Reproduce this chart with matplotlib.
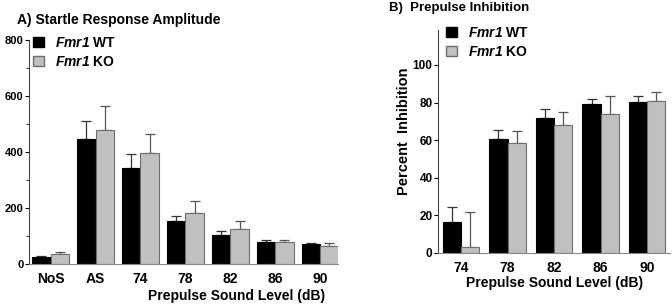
import matplotlib
matplotlib.use("Agg")
import matplotlib.pyplot as plt
import numpy as np
from matplotlib.patches import Patch

plt.rcParams['font.family'] = ['Liberation Sans', 'DejaVu Sans']
plt.rcParams['font.weight'] = 'bold'
plt.rcParams['mathtext.fontset'] = 'custom'
plt.rcParams['mathtext.bfit'] = 'Liberation Sans:italic:bold'
plt.rcParams['mathtext.bf'] = 'Liberation Sans:bold'

# A) 驚愕反応の振幅
cats_a = ['NoS', 'AS', '74', '78', '82', '86', '90']
wt_a = [24, 444, 342, 151, 102, 77, 70]
wt_a_err = [2, 66, 51, 18, 13, 6, 4]
ko_a = [35, 477, 396, 182, 122, 77, 63]
ko_a_err = [5, 85, 66, 41, 29, 7, 11]

# B) プレパルス抑制
cats_b = ['74', '78', '82', '86', '90']
wt_b = [16.5, 60.3, 71.6, 79.2, 80.4]
wt_b_err = [8, 5.2, 4.8, 2.8, 2.9]
ko_b = [3.2, 58.6, 68.2, 74.0, 80.6]
ko_b_err = [18.6, 6.4, 6.9, 9.3, 4.8]

labels = [r'$\mathbfit{Fmr1}$ WT', r'$\mathbfit{Fmr1}$ KO']
ko_color = '#c0c0c0'
ko_edge = '#6e6e6e'


def draw_bars(ax, cats, wt, wt_err, ko, ko_err, w):
    x = np.arange(len(cats))
    ax.bar(x - w / 2, wt, w, color='black', edgecolor='black', linewidth=0.8, zorder=2)
    ax.bar(x + w / 2, ko, w, color=ko_color, edgecolor=ko_edge, linewidth=0.8, zorder=2)
    ax.errorbar(x - w / 2, wt, yerr=[np.zeros(len(wt)), wt_err], fmt='none',
                ecolor='#333333', elinewidth=0.9, capsize=3.3, capthick=0.9, zorder=1)
    ax.errorbar(x + w / 2, ko, yerr=[np.zeros(len(ko)), ko_err], fmt='none',
                ecolor='#555555', elinewidth=0.9, capsize=3.3, capthick=0.9, zorder=1)
    ax.set_xticks(x)
    ax.set_xticklabels(cats, fontsize=10, fontweight='bold')
    ax.tick_params(axis='x', length=0, pad=6)
    for s in ['top', 'right']:
        ax.spines[s].set_visible(False)
    ax.spines['bottom'].set_color('#888888')
    ax.spines['bottom'].set_linewidth(0.8)
    ax.spines['left'].set_color('#444444')
    ax.spines['left'].set_linewidth(0.8)


def add_legend(ax, anchor):
    ax.legend([Patch(facecolor='black', edgecolor='black'),
               Patch(facecolor=ko_color, edgecolor=ko_edge)], labels,
              loc='upper left', bbox_to_anchor=anchor, frameon=False, fontsize=10,
              handlelength=0.8, handleheight=0.8, handletextpad=0.8,
              labelspacing=0.35, borderaxespad=0.3)


fig = plt.figure(figsize=(6.72, 3.05), dpi=100)

ax1 = fig.add_axes([0.0432, 0.136, 0.46, 0.733])
draw_bars(ax1, cats_a, wt_a, wt_a_err, ko_a, ko_a_err, 0.41)
ax1.set_xlim(-0.48, 6.4)
ax1.set_ylim(0, 800)
ax1.set_yticks([0, 200, 400, 600, 800])
ax1.set_yticks([100, 300, 500, 700], minor=True)
ax1.tick_params(axis='y', labelsize=8, length=3, width=0.8, pad=1)
ax1.tick_params(axis='y', which='minor', length=2, width=0.6)
ax1.set_xlabel('Prepulse Sound Level (dB)', fontsize=10, fontweight='bold')
ax1.xaxis.set_label_coords(0.67, -0.115)
fig.text(0.025, 0.935, 'A) Startle Response Amplitude', fontsize=10, fontweight='bold',
         va='center', ha='left')
add_legend(ax1, (-0.02, 1.062))

ax2 = fig.add_axes([0.652, 0.1715, 0.345, 0.73])
draw_bars(ax2, cats_b, wt_b, wt_b_err, ko_b, ko_b_err, 0.39)
ax2.set_xlim(-0.49, 4.49)
ax2.set_ylim(0, 118.6)
ax2.set_yticks([0, 20, 40, 60, 80, 100])
ax2.tick_params(axis='y', labelsize=8.5, length=3, width=0.8, pad=1)
ax2.set_ylabel('Percent  Inhibition', fontsize=10.5, fontweight='bold')
ax2.yaxis.set_label_coords(-0.116, 0.546)
ax2.set_xlabel('Prepulse Sound Level (dB)', fontsize=10, fontweight='bold', labelpad=1)
fig.text(0.579, 0.973, 'B)  Prepulse Inhibition', fontsize=9.5, fontweight='bold',
         va='center', ha='left')
add_legend(ax2, (-0.01, 1.062))

fig.savefig('out.png', dpi=100)
